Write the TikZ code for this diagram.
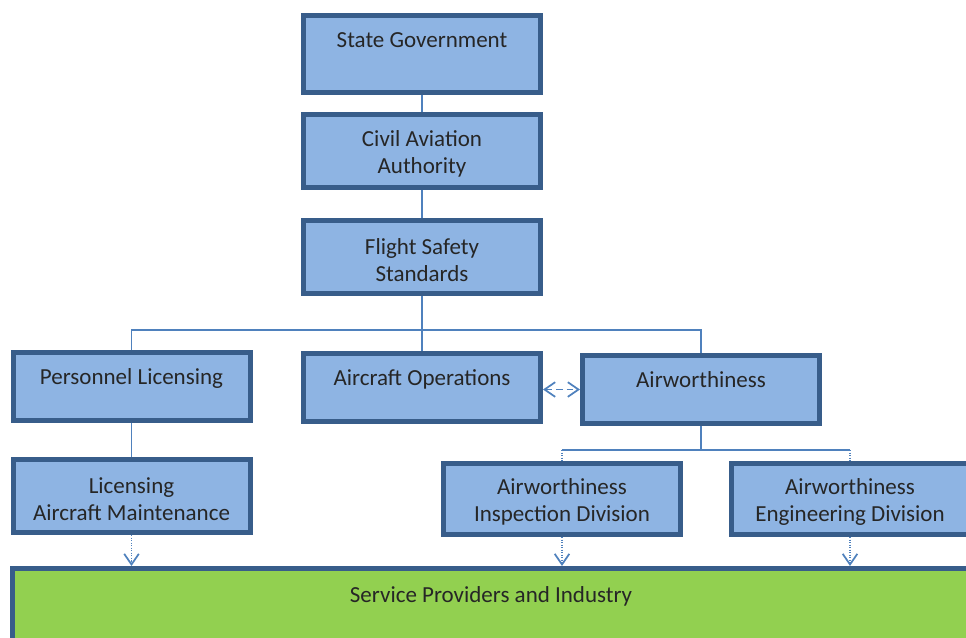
\documentclass[tikz,border=0pt]{standalone}
\usepackage{fontspec}
\setmainfont{Carlito}
\usetikzlibrary{arrows.meta}
\definecolor{boxfill}{HTML}{8EB4E3}
\definecolor{boxline}{HTML}{385D8A}
\definecolor{linkcol}{HTML}{4F81BD}
\definecolor{greenfill}{HTML}{92D050}
\tikzset{
  box/.style={draw=boxline, line width=3.75pt, fill=boxfill, align=center,
    minimum width=177.75pt, minimum height=54.75pt, inner sep=0pt,
    text=black!85, font=\fontsize{17.25}{20.25}\selectfont},
  lift/.style={text height=11pt, text depth=#1},
  two/.style={text height=36.5pt},
  link/.style={draw=linkcol, line width=0.9pt},
  barb/.tip={Straight Barb[length=8pt,width=11pt,line width=1.3pt]},
  tip/.style={link, densely dotted, -barb},
  dlink/.style={link, dashed, dash pattern=on 5pt off 3pt, barb-barb}
}
\begin{document}
\begin{tikzpicture}[x=0.75pt, y=-0.75pt]
\useasboundingbox (0,0) rectangle (966,637);
% top chain
\node[box, minimum height=57.75pt, lift=21.5pt] (sg) at (422,54) {State Government};
\node[box, two] (caa) at (422,151) {Civil Aviation\\Authority};
\node[box, two] (fss) at (422,257) {Flight Safety\\Standards};
% divisions
\node[box, minimum height=51pt, lift=14pt] (pl) at (131.5,386.5) {Personnel Licensing};
\node[box, minimum height=51pt, lift=14pt] (ao) at (422,387.5) {Aircraft Operations};
\node[box, minimum height=51pt, lift=14pt] (aw) at (701,389.5) {Airworthiness};
% sub divisions
\node[box, two] (lam) at (131.5,496) {Licensing\\Aircraft Maintenance};
\node[box, two, minimum height=53.25pt] (aid) at (562,499) {Airworthiness\\Inspection Division};
\node[box, two, minimum height=53.25pt] (aed) at (850,499) {Airworthiness\\Engineering Division};
% industry
\node[box, fill=greenfill, minimum width=717.75pt, minimum height=105pt, lift=65.5pt] (spi) at (491,638.5) {Service Providers and Industry};

\draw[link] (sg) -- (caa);
\draw[link] (caa) -- (fss);
\draw[link] (fss.south) -- ++(0,34) coordinate (j1) -| (pl.north);
\draw[link] (j1) -| (aw.north);
\draw[link] (j1) -- (ao.north);
\draw[link] (pl) -- (lam);
\draw[link] (aw.south) -- ++(0,24) coordinate (j2);
\draw[link] (j2 -| aid.north) -- (j2 -| aed.north);
\draw[link, densely dotted] (j2 -| aid.north) -- (aid.north);
\draw[link, densely dotted] (j2 -| aed.north) -- (aed.north);
\draw[dlink] (ao.east |- aw.west) -- (aw.west);
\draw[tip] (lam.south) -- (lam.south |- spi.north);
\draw[tip] (aid.south) -- (aid.south |- spi.north);
\draw[tip] (aed.south) -- (aed.south |- spi.north);
\end{tikzpicture}
\end{document}
